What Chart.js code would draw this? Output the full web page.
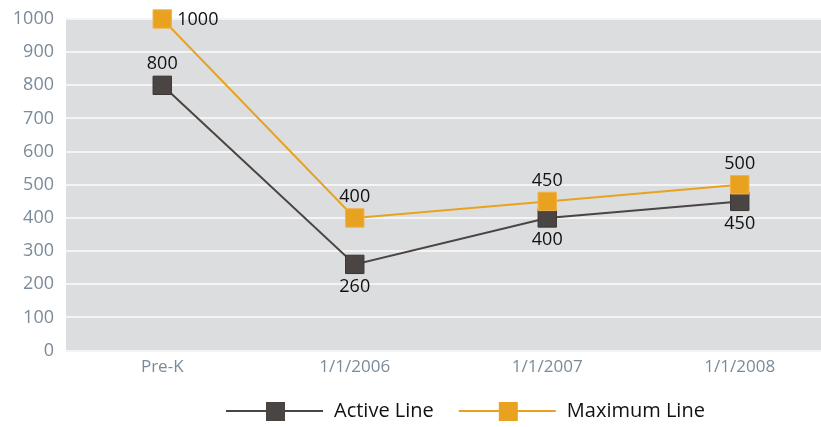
<!DOCTYPE html>
<html>
<head>
<meta charset="utf-8">
<script src="https://cdn.jsdelivr.net/npm/chart.js@4.4.1/dist/chart.umd.min.js"></script>
<style>
  html, body { margin: 0; padding: 0; background: #ffffff; overflow: hidden; }
  #wrap { width: 850px; height: 427px; }
</style>
</head>
<body>
<div id="wrap"><canvas id="chart" width="850" height="427"></canvas></div>
<script>
// Categories and series values
const categories = ['Pre-K', '1/1/2006', '1/1/2007', '1/1/2008'];
const activeLine = [800, 260, 400, 450];
const maximumLine = [1000, 400, 450, 500];
const yTicks = [0, 100, 200, 300, 400, 500, 600, 700, 800, 900, 1000];

// Where each series puts its value labels relative to the marker
const activeLabelPos = ['above', 'below', 'below', 'below'];
const maximumLabelPos = ['right', 'above', 'above', 'above'];

const DARK = '#4a4542';
const ORANGE = '#e8a21f';
const AXIS_TEXT = '#7b8a99';
const FONT = "'Open Sans', 'Noto Sans', sans-serif";

// Gray plot background
const plotBackground = {
  id: 'plotBackground',
  beforeDraw(chart) {
    const { ctx, chartArea } = chart;
    ctx.save();
    ctx.fillStyle = '#dcdddf';
    ctx.fillRect(chartArea.left, chartArea.top, chartArea.right - chartArea.left, chartArea.bottom - chartArea.top);
    ctx.restore();
  }
};

// Value labels next to each marker
const valueLabels = {
  id: 'valueLabels',
  afterDatasetsDraw(chart) {
    const { ctx } = chart;
    ctx.save();
    ctx.font = '18px ' + FONT;
    ctx.fillStyle = '#111111';
    chart.data.datasets.forEach((ds, i) => {
      const meta = chart.getDatasetMeta(i);
      meta.data.forEach((pt, j) => {
        const pos = ds.labelPos[j];
        const text = String(ds.data[j]);
        if (pos === 'above') {
          ctx.textAlign = 'center'; ctx.textBaseline = 'middle';
          ctx.fillText(text, pt.x, pt.y - 21);
        } else if (pos === 'below') {
          ctx.textAlign = 'center'; ctx.textBaseline = 'middle';
          ctx.fillText(text, pt.x, pt.y + 22);
        } else {
          ctx.textAlign = 'left'; ctx.textBaseline = 'middle';
          ctx.fillText(text, pt.x + 15, pt.y + 1);
        }
      });
    });
    ctx.restore();
  }
};

// Legend: line with a square marker, then the series name
const lineLegend = {
  id: 'lineLegend',
  afterDraw(chart) {
    const { ctx } = chart;
    const y = 411;
    let x = 226;
    ctx.save();
    ctx.font = '20px ' + FONT;
    ctx.textBaseline = 'middle';
    ctx.textAlign = 'left';
    const items = [chart.data.datasets[0], chart.data.datasets[1]];
    items.forEach(ds => {
      ctx.strokeStyle = ds.borderColor;
      ctx.lineWidth = 2;
      ctx.beginPath();
      ctx.moveTo(x, y);
      ctx.lineTo(x + 97, y);
      ctx.stroke();
      ctx.fillStyle = ds.pointBackgroundColor;
      ctx.fillRect(x + 40, y - 9, 19, 19);
      ctx.fillStyle = '#111111';
      ctx.fillText(ds.label, x + 108, y);
      x += 108 + ctx.measureText(ds.label).width + 25;
    });
    ctx.restore();
  }
};

new Chart(document.getElementById('chart'), {
  type: 'line',
  data: {
    labels: categories,
    datasets: [
      {
        label: 'Active Line',
        data: activeLine,
        labelPos: activeLabelPos,
        borderColor: DARK,
        backgroundColor: DARK,
        pointBackgroundColor: DARK,
        pointBorderColor: '#3a3633',
        pointBorderWidth: 1,
        pointStyle: 'rect',
        pointRadius: 13,
        pointHoverRadius: 13,
        borderWidth: 2,
        tension: 0,
        order: 1
      },
      {
        label: 'Maximum Line',
        data: maximumLine,
        labelPos: maximumLabelPos,
        borderColor: ORANGE,
        backgroundColor: ORANGE,
        pointBackgroundColor: ORANGE,
        pointBorderColor: '#efb24a',
        pointBorderWidth: 1,
        pointStyle: 'rect',
        pointRadius: 13,
        pointHoverRadius: 13,
        borderWidth: 2,
        tension: 0,
        order: 0
      }
    ]
  },
  options: {
    responsive: false,
    animation: false,
    clip: false,
    layout: { padding: { top: 19, bottom: 44, left: 0, right: 0 } },
    plugins: {
      legend: { display: false },
      tooltip: { enabled: false }
    },
    scales: {
      x: {
        offset: true,
        grid: { display: false, drawTicks: false },
        border: { display: false },
        ticks: { color: AXIS_TEXT, font: { family: FONT, size: 17 }, padding: 6, maxRotation: 0 }
      },
      y: {
        min: 0,
        max: 1000,
        afterBuildTicks(scale) { scale.ticks = yTicks.map(v => ({ value: v })); },
        afterFit(scale) {
          scale.width = 66;
          scale.paddingTop = 0;
          scale.paddingBottom = 0;
        },
        grid: { color: '#f4f4f5', lineWidth: 2, drawTicks: false },
        border: { display: false },
        ticks: {
          color: AXIS_TEXT,
          font: { family: FONT, size: 18 },
          padding: 12,
          callback: v => String(v)
        }
      }
    }
  },
  plugins: [plotBackground, valueLabels, lineLegend]
});
</script>
</body>
</html>
